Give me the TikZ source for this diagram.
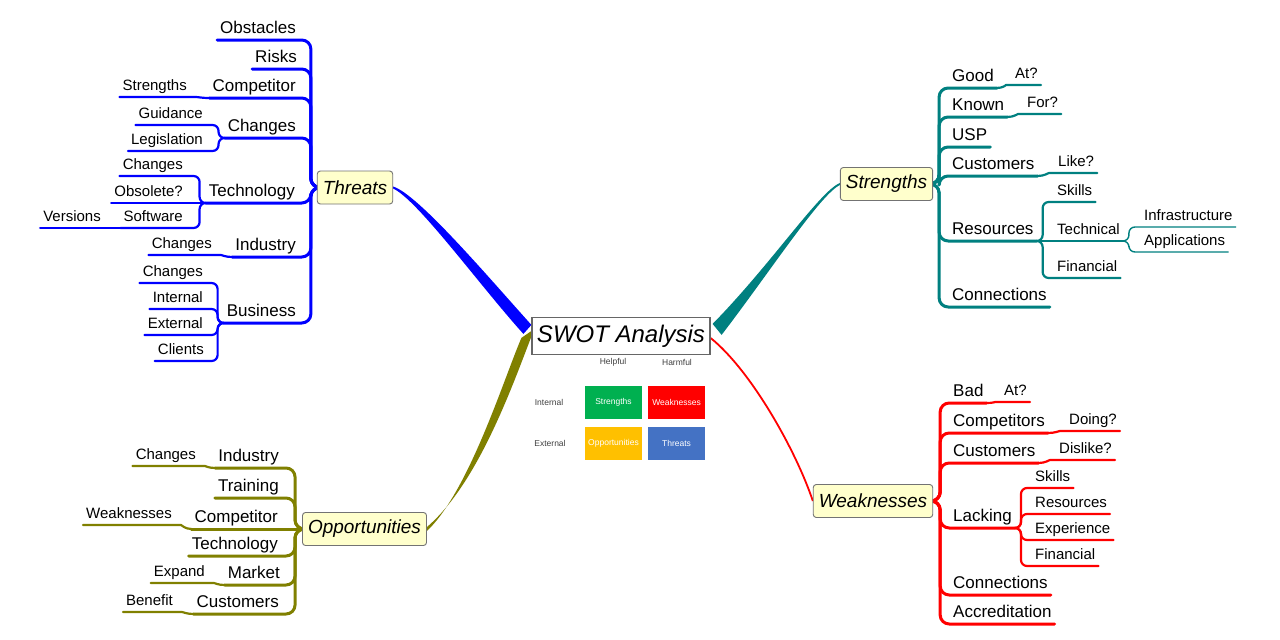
\documentclass[tikz,border=0pt]{standalone}
\usepackage{fontspec}
\setmainfont{Liberation Sans}
\usetikzlibrary{backgrounds}
\pgfdeclarelayer{lines}
\pgfsetlayers{background,lines,main}
\definecolor{cB}{RGB}{0,0,255}
\definecolor{cT}{RGB}{0,128,128}
\definecolor{cO}{RGB}{128,128,0}
\definecolor{cR}{RGB}{255,0,0}
\definecolor{nodeY}{RGB}{255,255,204}
\definecolor{gG}{RGB}{0,176,80}
\definecolor{gR}{RGB}{255,0,0}
\definecolor{gY}{RGB}{255,192,0}
\definecolor{gB}{RGB}{68,114,196}
\begin{document}
\begin{tikzpicture}[x=1pt,y=-1pt,
  lA/.style={font=\fontsize{17}{20}\selectfont, text height=12.5pt, text depth=4.2pt, inner xsep=3pt, inner ysep=2pt},
  lB/.style={font=\fontsize{15}{18}\selectfont, text height=11pt, text depth=3.7pt, inner xsep=3pt, inner ysep=2.3pt},
  mainnode/.style={draw=gray!90!black, fill=nodeY, rounded corners=3pt, font=\fontsize{19}{22}\selectfont\itshape, minimum height=33pt, inner xsep=5.5pt, line width=0.9pt},
  brA/.style={line width=3pt, rounded corners=9pt, line cap=round, line join=round},
  brB/.style={line width=2.2pt, rounded corners=6pt, line cap=round, line join=round},
  brC/.style={line width=1.4pt, rounded corners=6pt, line cap=round, line join=round},
  gbox/.style={minimum width=57pt, minimum height=33pt, inner sep=0pt, text=white, font=\fontsize{8.5}{10}\selectfont},
  small/.style={font=\fontsize{8.5}{10}\selectfont, text=black!75, inner sep=0pt}
]
\useasboundingbox (0,0) rectangle (1280,640);

% central
\node[draw=gray!80!black, fill=white, line width=1.2pt, minimum width=178pt, minimum height=37pt, inner sep=0pt, font=\fontsize{24}{28}\selectfont\itshape] (swot) at (621,336) {SWOT Analysis};
\node[small] (hlp) at (613,362) {Helpful};
\node[small] (hrm) at (677,362) {Harmful};
\node[small] (intl) at (549,402) {Internal};
\node[small] (extl) at (550,443) {External};
\node[gbox, fill=gG] (gs) at (613.5,402.5) {Strengths};
\node[gbox, fill=gR] (gw) at (676.5,402.5) {Weaknesses};
\node[gbox, fill=gY] (go) at (613.5,443) {Opportunities};
\node[gbox, fill=gB] (gt) at (676.5,443) {Threats};

% main nodes
\node[mainnode] (thr) at (355,187.5) {Threats};
\node[mainnode] (str) at (886.5,184) {Strengths};
\node[mainnode] (weak) at (873,501) {Weaknesses};
\node[mainnode] (opp) at (364.5,529) {Opportunities};

% ---------- Threats ----------
\node[lA, anchor=south east] (obst) at (299,40) {Obstacles};
\node[lA, anchor=south east] (risk) at (300,69) {Risks};
\node[lA, anchor=south east] (tcomp) at (299,98) {Competitor};
\node[lA, anchor=south east] (tchg) at (299,138) {Changes};
\node[lA, anchor=south east] (ttech) at (298,203) {Technology};
\node[lA, anchor=south east] (tind) at (299,257) {Industry};
\node[lA, anchor=south east] (tbus) at (299,323) {Business};
\node[lB, anchor=south east] (tstr) at (190,97) {Strengths};
\node[lB, anchor=south east] (tguid) at (206,125) {Guidance};
\node[lB, anchor=south east] (tleg) at (206,151) {Legislation};
\node[lB, anchor=south east] (ttchg) at (186,176) {Changes};
\node[lB, anchor=south east] (tobs) at (186,203) {Obsolete?};
\node[lB, anchor=south east] (tsoft) at (186,228) {Software};
\node[lB, anchor=south east] (tver) at (104,228) {Versions};
\node[lB, anchor=south east] (tichg) at (215,255) {Changes};
\node[lB, anchor=south east] (tbchg) at (206,283) {Changes};
\node[lB, anchor=south east] (tint) at (206,309) {Internal};
\node[lB, anchor=south east] (tbext) at (206,335) {External};
\node[lB, anchor=south east] (tcli) at (207,361) {Clients};

% ---------- Strengths ----------
\node[lA, anchor=south west] (sgood) at (949,88) {Good};
\node[lA, anchor=south west] (sknown) at (949,117) {Known};
\node[lA, anchor=south west] (susp) at (949,147) {USP};
\node[lA, anchor=south west] (scust) at (949,176) {Customers};
\node[lA, anchor=south west] (sres) at (949,241) {Resources};
\node[lA, anchor=south west] (sconn) at (949,307) {Connections};
\node[lB, anchor=south west] (sat) at (1012,85) {At?};
\node[lB, anchor=south west] (sfor) at (1024,114) {For?};
\node[lB, anchor=south west] (slike) at (1055,173) {Like?};
\node[lB, anchor=south west] (sskill) at (1054,202) {Skills};
\node[lB, anchor=south west] (stech) at (1054,241) {Technical};
\node[lB, anchor=south west] (sfin) at (1054,278) {Financial};
\node[lB, anchor=south west] (sinfra) at (1141,227) {Infrastructure};
\node[lB, anchor=south west] (sappl) at (1141,252) {Applications};

% ---------- Weaknesses ----------
\node[lA, anchor=south west] (wbad) at (950,403) {Bad};
\node[lA, anchor=south west] (wcomp) at (950,433) {Competitors};
\node[lA, anchor=south west] (wcust) at (950,463) {Customers};
\node[lA, anchor=south west] (wlack) at (950,528) {Lacking};
\node[lA, anchor=south west] (wconn) at (950,595) {Connections};
\node[lA, anchor=south west] (waccr) at (950,624) {Accreditation};
\node[lB, anchor=south west] (wat) at (1001,402) {At?};
\node[lB, anchor=south west] (wdoing) at (1066,431) {Doing?};
\node[lB, anchor=south west] (wdis) at (1056,460) {Dislike?};
\node[lB, anchor=south west] (wskill) at (1032,488) {Skills};
\node[lB, anchor=south west] (wres) at (1032,514) {Resources};
\node[lB, anchor=south west] (wexp) at (1032,540) {Experience};
\node[lB, anchor=south west] (wfin) at (1032,566) {Financial};

% ---------- Opportunities ----------
\node[lA, anchor=south east] (oind) at (282,468) {Industry};
\node[lA, anchor=south east] (otrain) at (282,498) {Training};
\node[lA, anchor=south east] (ocomp) at (281,529) {Competitor};
\node[lA, anchor=south east] (otech) at (281,556) {Technology};
\node[lA, anchor=south east] (omark) at (283,585) {Market};
\node[lA, anchor=south east] (ocust) at (282,614) {Customers};
\node[lB, anchor=south east] (ochg) at (199,466) {Changes};
\node[lB, anchor=south east] (oweak) at (175,525) {Weaknesses};
\node[lB, anchor=south east] (oexp) at (208,583) {Expand};
\node[lB, anchor=south east] (oben) at (176,612) {Benefit};

% ---------- branch lines ----------
\begin{pgfonlayer}{lines}
\foreach \n in {obst,risk,tcomp,tchg,ttech,tind,tbus}
  \draw[brA,cB] (thr.west) -- ++(-6,0) |- (\n.south west);
\draw[brB,cB] (tcomp.south west) to[out=180,in=0] (tstr.south east) -- (tstr.south west);
\foreach \n in {tguid,tleg}
  \draw[brB,cB] (tchg.south west) -- ++(-6,0) |- (\n.south west);
\foreach \n in {ttchg,tsoft}
  \draw[brB,cB] (ttech.south west) -- ++(-6,0) |- (\n.south west);
\draw[brB,cB] (ttech.south west) -- (tobs.south west);
\draw[brB,cB] (tsoft.south west) -- (tver.south west);
\draw[brB,cB] (tind.south west) to[out=180,in=0] (tichg.south east) -- (tichg.south west);
\foreach \n in {tbchg,tint,tbext,tcli}
  \draw[brB,cB] (tbus.south west) -- ++(-6,0) |- (\n.south west);

\foreach \n in {sgood,sknown,susp,scust,sres,sconn}
  \draw[brA,cT] (str.east) -- ++(6,0) |- (\n.south east);
\draw[brB,cT] (sgood.south east) to[out=0,in=180] (sat.south west) -- (sat.south east);
\draw[brB,cT] (sknown.south east) to[out=0,in=180] (sfor.south west) -- (sfor.south east);
\draw[brB,cT] (scust.south east) to[out=0,in=180] (slike.south west) -- (slike.south east);
\foreach \n in {sskill,sfin}
  \draw[brB,cT] (sres.south east) -- ++(6,0) |- (\n.south east);
\draw[brB,cT] (sres.south east) -- (stech.south east);
\foreach \n in {sinfra,sappl}
  \draw[brC,cT] (stech.south east) -- ++(6,0) |- (\n.south east);

\foreach \n in {wbad,wcomp,wcust,wlack,wconn,waccr}
  \draw[brA,cR] (weak.east) -- ++(7,0) |- (\n.south east);
\draw[brB,cR] (wbad.south east) to[out=0,in=180] (wat.south west) -- (wat.south east);
\draw[brB,cR] (wcomp.south east) to[out=0,in=180] (wdoing.south west) -- (wdoing.south east);
\draw[brB,cR] (wcust.south east) to[out=0,in=180] (wdis.south west) -- (wdis.south east);
\foreach \n in {wskill,wres,wexp,wfin}
  \draw[brB,cR] (wlack.south east) -- ++(6,0) |- (\n.south east);

\foreach \n in {oind,otrain,otech,omark,ocust}
  \draw[brA,cO] (opp.west) -- ++(-7,0) |- (\n.south west);
\draw[brA,cO] (opp.west) -- (ocomp.south west);
\draw[brB,cO] (oind.south west) to[out=180,in=0] (ochg.south east) -- (ochg.south west);
\draw[brB,cO] (ocomp.south west) to[out=180,in=0] (oweak.south east) -- (oweak.south west);
\draw[brB,cO] (omark.south west) to[out=180,in=0] (oexp.south east) -- (oexp.south west);
\draw[brB,cO] (ocust.south west) to[out=180,in=0] (oben.south east) -- (oben.south west);
\end{pgfonlayer}

% ---------- central connectors ----------
\begin{pgfonlayer}{background}
\fill[white] (0,0) rectangle (1280,640);
\fill[cB] ([shift={(0,-1)}]thr.east) .. controls +(25,8) and +(-45,-50) .. ([shift={(0,8)}]swot.north west)
  -- ([shift={(-8,17)}]swot.north west) .. controls +(-45,-50) and +(25,12) .. ([shift={(0,1)}]thr.east) -- cycle;
\fill[cT] ([shift={(0,-1)}]str.west) .. controls +(-20,8) and +(58,-59) .. ([shift={(2,7)}]swot.north east)
  -- ([shift={(11,18)}]swot.north east) .. controls +(49,-64) and +(-20,10) .. ([shift={(0,1)}]str.west) -- cycle;
\fill[cO] ([shift={(3,12)}]swot.north west) .. controls +(-18,45) and +(54,-46) .. ([shift={(0,-2)}]opp.east)
  -- ([shift={(0,2)}]opp.east) .. controls +(42,-40) and +(-18,42) .. ([shift={(-10,21)}]swot.north west) -- cycle;
\draw[cR, line width=1.8pt] ([shift={(0,2)}]swot.east) .. controls +(40,32) and +(-17,-51) .. (weak.west);
\end{pgfonlayer}
\end{tikzpicture}
\end{document}
